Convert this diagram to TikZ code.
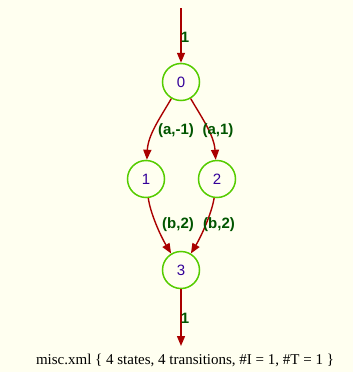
\documentclass[tikz,border=0pt]{standalone}
\usepackage{fontspec}
\setmainfont{Liberation Serif}
\newfontfamily\nodefont{Liberation Sans}
\usetikzlibrary{arrows.meta}
\definecolor{bgc}{HTML}{FFFFF0}
\definecolor{edgec}{HTML}{AA0000}
\definecolor{nodec}{HTML}{55CC00}
\definecolor{txtc}{HTML}{330099}
\definecolor{labc}{HTML}{005500}
\tikzset{
  state/.style={circle,draw=nodec,line width=1.5pt,minimum size=37pt,inner sep=0pt,font=\nodefont\fontsize{15}{15}\selectfont,text=txtc},
  edge/.style={draw=edgec,line width=1.4pt,-{Triangle[length=10pt,width=8pt]}},
  elab/.style={font=\nodefont\bfseries\fontsize{15}{15}\selectfont,text=labc,inner sep=1pt}
}
\begin{document}
\begin{tikzpicture}[x=1pt,y=-1pt]
\fill[bgc] (0,0) rectangle (353,372);
\useasboundingbox (0,0) rectangle (353,372);
\node[state] (n0) at (181,82) {0};
\node[state] (n1) at (146,179) {1};
\node[state] (n2) at (217,179) {2};
\node[state] (n3) at (181,270) {3};
\coordinate (top) at (181,8);
\coordinate (bot) at (181,346);
\draw[edge] (top) -- (n0);
\draw[edge] (n3) -- (bot);
\node[elab] (l0) at (185,37) {1};
\node[elab] (l3) at (185,318) {1};
\draw[edge] (n0) .. controls (160,118) and (148,135) .. (n1);
\draw[edge] (n0) .. controls (202,118) and (214,135) .. (n2);
\draw[edge] (n1) .. controls (150,212) and (160,235) .. (n3);
\draw[edge] (n2) .. controls (212,212) and (202,235) .. (n3);
\node[elab] (l01) at (176,131) {(a,-1)};
\node[elab] (l02) at (218,131) {(a,1)};
\node[elab] (l13) at (178,225) {(b,2)};
\node[elab] (l23) at (219,225) {(b,2)};
\node[font=\fontsize{15}{15}\selectfont,inner sep=0pt] (cap) at (185,360) {misc.xml \{ 4 states, 4 transitions, \#I = 1, \#T = 1 \}};
\end{tikzpicture}
\end{document}
